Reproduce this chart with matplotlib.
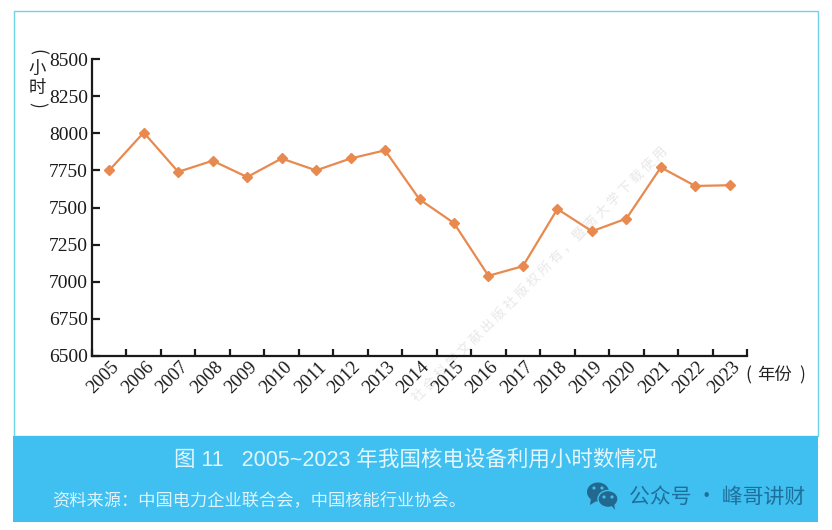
import matplotlib
matplotlib.use('Agg')
import matplotlib.pyplot as plt
from matplotlib.patches import Rectangle, Ellipse, Polygon

plt.rcParams['font.family'] = ['Noto Sans CJK SC', 'DejaVu Sans']

W, H = 832, 530

years = [str(y) for y in range(2005, 2024)]
hours = [7750, 8005, 7740, 7815, 7705, 7830, 7750, 7830, 7885, 7555,
         7395, 7040, 7105, 7490, 7340, 7425, 7770, 7645, 7650]
yticks = [6500, 6750, 7000, 7250, 7500, 7750, 8000, 8250, 8500]

title = '图 11   2005~2023 年我国核电设备利用小时数情况'
source = '资料来源：中国电力企业联合会，中国核能行业协会。'
brand = '公众号 · 峰哥讲财'
watermark = '社会科学文献出版社版权所有，暨南大学下载使用'

LINE = '#e8894f'
BAND = '#40c0f0'
SERIF = ['Liberation Serif', 'DejaVu Serif']
SANS = ['Liberation Sans', 'Noto Sans CJK SC', 'DejaVu Sans']


def px(x, y):
    # pixel position from the top left -> figure fraction
    return x / W, 1 - y / H


fig = plt.figure(figsize=(W / 100, H / 100), dpi=100)

# frame and blue band
bg = fig.add_axes([0, 0, 1, 1])
bg.set_xlim(0, W)
bg.set_ylim(H, 0)
bg.axis('off')
bg.add_patch(Rectangle((13.5, 11), 804, 425, fc='none', ec='#6fd3e6', lw=1))
bg.add_patch(Rectangle((13, 436), 805, 86, fc=BAND, ec='none'))

# watermark
bg.text(540, 274, ' '.join(watermark), rotation=45, rotation_mode='anchor', ha='center', va='center',
        fontsize=9.5, color='#e8e8e8')

# chart
ax = fig.add_axes([92 / W, 1 - 356 / H, (747 - 92) / W, (356 - 59) / H])
ax.patch.set_visible(False)
x = list(range(len(years)))
ax.plot(x, hours, color=LINE, lw=1.6, marker='D', ms=5.5, mec=LINE, mfc=LINE, clip_on=False)
ax.set_xlim(-0.5, len(years) - 0.5)
ax.set_ylim(6500, 8500)

for s in ['top', 'right']:
    ax.spines[s].set_visible(False)
for s in ['left', 'bottom']:
    ax.spines[s].set_linewidth(1.6)
    ax.spines[s].set_color('#1a1a1a')

ax.set_yticks(yticks)
ax.set_yticklabels([str(v) for v in yticks], family=SERIF, fontsize=14, color='#1a1a1a')
ax.tick_params(axis='y', direction='in', length=5.5, width=1.6, pad=3, color='#1a1a1a')

ax.set_xticks([i - 0.5 for i in range(len(years) + 1)])
ax.set_xticklabels([])
ax.tick_params(axis='x', direction='in', length=5, width=1.6, color='#1a1a1a')
for i, label in enumerate(years):
    ax.annotate(label, xy=(i, 0), xycoords=('data', 'axes fraction'), xytext=(1, -2),
                textcoords='offset points', rotation=45, rotation_mode='anchor',
                ha='right', va='top', family=SERIF, fontsize=13.5, color='#1a1a1a')

# axis titles
for ch, yp, rot in [('(', 52, -90), ('小', 69, 0), ('时', 88, 0), (')', 105, -90)]:
    fx, fy = px(37, yp)
    fig.text(fx, fy, ch, rotation=rot, ha='center', va='center', fontsize=12.5, color='#222222')
for ch, xp in [('(', 748), ('年份', 775), (')', 802)]:
    fx, fy = px(xp, 375)
    fig.text(fx, fy, ch, ha='center', va='center', fontsize=12.5, color='#222222')

# band text
fx, fy = px(416, 460)
fig.text(fx, fy, title, ha='center', va='center', fontsize=15.5, color='#e4f6fd', family=SANS)
fx, fy = px(52, 500)
fig.text(fx, fy, source, ha='left', va='center', fontsize=12.4, color='#dff4fc')
fx, fy = px(805, 497)
fig.text(fx, fy, brand, ha='right', va='center', fontsize=15, color='#1f6f9c')

# wechat icon
ICON = '#23698f'
bg.add_patch(Ellipse((598, 492), 22, 19, fc=ICON, ec='none'))
bg.add_patch(Polygon([(591, 498), (590, 505), (598, 500)], fc=ICON, ec='none'))
bg.add_patch(Ellipse((608, 499), 20, 17, fc=ICON, ec=BAND, lw=1))
bg.add_patch(Polygon([(611, 505), (615, 510), (614, 503)], fc=ICON, ec='none'))
for ex, ey in [(594, 488), (602, 488), (604, 497), (612, 497)]:
    bg.add_patch(Ellipse((ex, ey), 3.2, 3.2, fc=BAND, ec='none'))

fig.savefig('out.png', dpi=100)
